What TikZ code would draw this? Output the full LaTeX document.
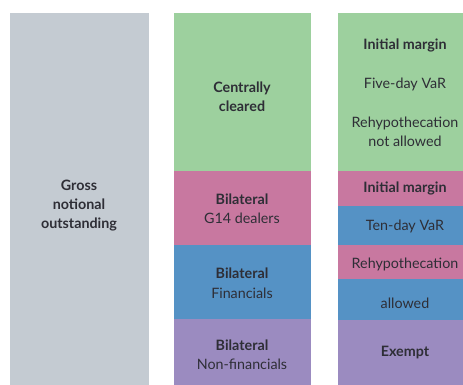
\documentclass[tikz,border=0pt]{standalone}
\usepackage{fontspec}
\setmainfont{Lato}
\definecolor{cgray}{HTML}{C4CBD2}
\definecolor{cgreen}{HTML}{9DD09E}
\definecolor{cpink}{HTML}{C878A0}
\definecolor{cblue}{HTML}{5592C5}
\definecolor{cpurple}{HTML}{9B8BC0}
\definecolor{ctext}{HTML}{2E2E36}
\begin{document}
\begin{tikzpicture}[x=1pt,y=-1pt,
  lbl/.style={text=ctext,font=\fontsize{14.3}{19}\selectfont,align=center,inner sep=0pt},
  blbl/.style={lbl,font=\fontsize{14.3}{19}\selectfont\bfseries}]
\useasboundingbox (0,0) rectangle (463,385);
% column 1
\fill[cgray] (10,13) rectangle (149,385);
% column 2
\fill[cgreen] (174,13) rectangle (311,171);
\fill[cpink] (174,171) rectangle (311,245);
\fill[cblue] (174,245) rectangle (311,319);
\fill[cpurple] (174,319) rectangle (311,385);
% column 3
\fill[cgreen] (338,13) rectangle (463,171);
\fill[cpink] (338,171) rectangle (463,206);
\fill[cblue] (338,206) rectangle (463,245);
\fill[cpink] (338,245) rectangle (463,279);
\fill[cblue] (338,279) rectangle (463,320);
\fill[cpurple] (338,320) rectangle (463,385);
% texts
\node[blbl] (gross) at (79,206) {Gross\\notional\\outstanding};
\node[blbl] (cc) at (242,97) {Centrally\\cleared};
\node[blbl] (b1) at (242,199) {Bilateral};
\node[lbl] (b1s) at (242,218) {G14 dealers};
\node[blbl] (b2) at (242,273) {Bilateral};
\node[lbl] (b2s) at (242,293) {Financials};
\node[blbl] (b3) at (242,345) {Bilateral};
\node[lbl] (b3s) at (242,364) {Non-financials};
\node[blbl] (im1) at (405,45) {Initial margin};
\node[lbl] (fd) at (405,84) {Five-day VaR};
\node[lbl] (rna) at (405,131.5) {Rehypothecation\\not allowed};
\node[blbl] (im2) at (405,188) {Initial margin};
\node[lbl] (td) at (405,226) {Ten-day VaR};
\node[lbl] (rh) at (405,264) {Rehypothecation};
\node[lbl] (al) at (405,303) {allowed};
\node[blbl] (ex) at (405,353) {Exempt};
\end{tikzpicture}
\end{document}
